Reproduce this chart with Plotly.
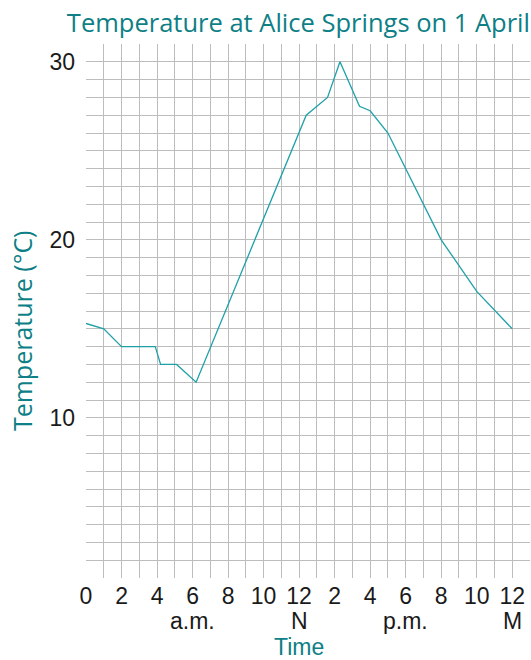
import plotly.graph_objects as go

# Hours after midnight and the temperature (°C) recorded at each
hours = [0, 1, 2, 3.9, 4.2, 5.1, 6.2, 12.4, 13.6, 14.3, 15.4, 16.0, 17.0, 20.0, 22.0, 24.0]
temps = [15.3, 15.0, 14.0, 14.0, 13.0, 13.0, 12.0, 27.0, 28.0, 30.0, 27.5, 27.25, 26.0, 20.0, 17.1, 15.0]

# Axis labelling
x_tick_vals = [0, 2, 4, 6, 8, 10, 12, 14, 16, 18, 20, 22, 24]
x_tick_text = ["0", "2", "4", "6", "8", "10", "12", "2", "4", "6", "8", "10", "12"]
period_hours = [6, 12, 18, 24]
period_text = ["a.m.", "N", "p.m.", "M"]
y_tick_vals = [10, 20, 30]

TEAL = "#0e7f86"
LINE = "#1fa0a8"
GRID = "#bdbdbd"
DARK = "#1a1a1a"
SANS = "Liberation Sans, Arial, sans-serif"
WIDE = "Open Sans, Liberation Sans, Arial, sans-serif"

fig = go.Figure()
fig.add_trace(go.Scatter(
    x=hours, y=temps, mode="lines",
    line=dict(color=LINE, width=1.3),
    hoverinfo="skip", showlegend=False,
))

fig.update_layout(
    width=531, height=660,
    margin=dict(l=86, r=1, t=44, b=82),
    paper_bgcolor="white", plot_bgcolor="white",
    font=dict(family=SANS, color=DARK, size=23),
    title=dict(text="Temperature at Alice Springs on 1 April",
               font=dict(family=WIDE, color=TEAL, size=25.5),
               x=1, xanchor="right", xref="paper",
               y=0.965, yanchor="middle", yref="container"),
)

fig.update_xaxes(
    range=[0, 25], tickvals=x_tick_vals, ticktext=x_tick_text,
    showgrid=True, gridcolor=GRID, gridwidth=1,
    minor=dict(dtick=1, tick0=0, showgrid=True, gridcolor=GRID, gridwidth=1),
    zeroline=False, showline=False, ticks="", ticklabelstandoff=2,
    fixedrange=True,
)
fig.update_yaxes(
    range=[1, 31], tickvals=y_tick_vals,
    showgrid=True, gridcolor=GRID, gridwidth=1,
    minor=dict(dtick=1, tick0=0, showgrid=True, gridcolor=GRID, gridwidth=1),
    zeroline=False, showline=False, ticks="", ticklabelstandoff=10,
    fixedrange=True,
)

# Second row under the hour labels: a.m. / noon / p.m. / midnight
for h, txt in zip(period_hours, period_text):
    fig.add_annotation(
        text=txt, x=h, xref="x", y=-0.0805, yref="paper",
        xanchor="center", yanchor="middle", showarrow=False,
        font=dict(family=SANS, color=DARK, size=23),
    )

# Horizontal axis title
fig.add_annotation(
    text="Time", x=12, xref="x", y=-0.1297, yref="paper",
    xanchor="center", yanchor="middle", showarrow=False,
    font=dict(family=SANS, color=TEAL, size=23),
)

# Vertical axis title placed beside the tick labels
fig.add_annotation(
    text="Temperature (°C)", textangle=-90,
    xref="paper", yref="paper", x=-0.144, y=0.4625,
    xanchor="center", yanchor="middle", showarrow=False,
    font=dict(family=WIDE, color=TEAL, size=25),
)

fig.write_html("out.html")
